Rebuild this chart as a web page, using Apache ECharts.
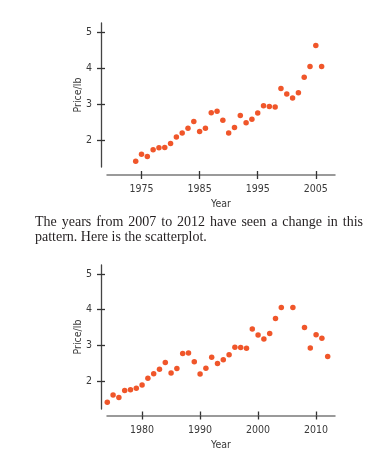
<!DOCTYPE html>
<html>
<head>
<meta charset="utf-8">
<script src="https://cdn.jsdelivr.net/npm/echarts@6/dist/echarts.min.js"></script>
<style>
html,body{margin:0;padding:0;background:#fff;}
#c{width:379px;height:453px;}
</style>
</head>
<body>
<div id="c"></div>
<script>
// ---- data ----
const years1 = [1974,1975,1976,1977,1978,1979,1980,1981,1982,1983,1984,1985,1986,1987,1988,1989,1990,1991,1992,1993,1994,1995,1996,1997,1998,1999,2000,2001,2002,2003,2004,2005,2006];
const price1 = [1.43,1.62,1.56,1.75,1.80,1.81,1.92,2.10,2.21,2.34,2.53,2.25,2.34,2.77,2.81,2.56,2.21,2.36,2.69,2.49,2.59,2.76,2.96,2.94,2.93,3.44,3.29,3.18,3.32,3.75,4.05,4.63,4.05];
const years2 = [1974,1975,1976,1977,1978,1979,1980,1981,1982,1983,1984,1985,1986,1987,1988,1989,1990,1991,1992,1993,1994,1995,1996,1997,1998,1999,2000,2001,2002,2003,2004,2006,2008,2009,2010,2011,2012];
const price2 = [1.41,1.61,1.54,1.74,1.76,1.80,1.89,2.08,2.21,2.33,2.52,2.23,2.35,2.77,2.79,2.54,2.20,2.36,2.67,2.49,2.60,2.74,2.95,2.94,2.92,3.46,3.29,3.18,3.33,3.75,4.06,4.06,3.50,2.93,3.30,3.20,2.69];
const xTicks1 = [1975,1985,1995,2005];
const xTicks2 = [1980,1990,2000,2010];
const yTicks = [2,3,4,5];
const xTitle = 'Year';
const yTitle = 'Price/lb';
const textLine1 = 'The years from 2007 to 2012 have seen a change in this';
const textLine2 = 'pattern. Here is the scatterplot.';

// ---- chart ----
const sansFont = '"Liberation Sans Narrow","DejaVu Sans Condensed","Liberation Sans",Arial,sans-serif';
const serifFont = '"Liberation Serif","DejaVu Serif",serif';
const dotColor = '#f0562a';
const plain = v => String(v);

function xAxes(g, min, max, ticks, offset) {
  return [
    {type:'value', gridIndex:g, position:'bottom', min:min, max:max, offset:offset,
     axisLine:{show:true, lineStyle:{color:'#7a7a7a', width:1.5}},
     axisTick:{show:true, length:4, customValues:ticks, lineStyle:{color:'#333', width:1.3}},
     axisLabel:{customValues:ticks, formatter:plain, margin:9, fontSize:10.5, color:'#3a3a3a', fontFamily:sansFont},
     splitLine:{show:false},
     name:xTitle, nameLocation:'middle', nameGap:24, nameMoveOverlap:false,
     nameTextStyle:{fontSize:10.5, color:'#3a3a3a', fontFamily:sansFont}},
    {type:'value', gridIndex:g, position:'bottom', min:min, max:max, offset:offset,
     axisLine:{show:true, lineStyle:{color:'rgba(0,0,0,0)', width:0}},
     axisTick:{show:true, inside:true, length:4, customValues:ticks, lineStyle:{color:'#333', width:1.3}},
     axisLabel:{show:false}, splitLine:{show:false}}
  ];
}
function yAxes(g, min, max, ticks, offset) {
  return [
    {type:'value', gridIndex:g, position:'left', min:min, max:max, offset:offset,
     axisLine:{show:true, lineStyle:{color:'#444', width:1.3}},
     axisTick:{show:true, length:4, customValues:ticks, lineStyle:{color:'#333', width:1.3}},
     axisLabel:{customValues:ticks, formatter:plain, margin:9, fontSize:10.5, color:'#3a3a3a', fontFamily:sansFont},
     splitLine:{show:false},
     name:yTitle, nameLocation:'middle', nameGap:17, nameRotate:90, nameMoveOverlap:false,
     nameTextStyle:{fontSize:10.5, color:'#3a3a3a', fontFamily:sansFont}},
    {type:'value', gridIndex:g, position:'left', min:min, max:max, offset:offset,
     axisLine:{show:true, lineStyle:{color:'rgba(0,0,0,0)', width:0}},
     axisTick:{show:true, inside:true, length:4, customValues:ticks, lineStyle:{color:'#333', width:1.3}},
     axisLabel:{show:false}, splitLine:{show:false}}
  ];
}

// justify first text line
const ctx = document.createElement('canvas').getContext('2d');
const fontStr = '14px ' + serifFont;
ctx.font = fontStr;
const words = textLine1.split(' ');
const widths = words.map(w => ctx.measureText(w).width);
const x0 = 35, x1 = 363;
const gap = (x1 - x0 - widths.reduce((a,b)=>a+b,0)) / (words.length - 1);
const textEls = [];
let cx = x0;
words.forEach((w,i) => {
  textEls.push({type:'text', left:cx, top:215, style:{text:w, font:fontStr, fill:'#231f20'}});
  cx += widths[i] + gap;
});
textEls.push({type:'text', left:x0, top:230, style:{text:textLine2, font:fontStr, fill:'#231f20'}});

const chart = echarts.init(document.getElementById('c'), null, {renderer:'canvas'});
chart.setOption({
  animation:false,
  backgroundColor:'#fff',
  grid:[
    {left:107, right:44, top:23, bottom:286, outerBoundsMode:'none'},
    {left:107, right:44, top:265, bottom:44, outerBoundsMode:'none'}
  ],
  xAxis: xAxes(0, 1969.06, 2008.3, xTicks1, 8).concat(xAxes(1, 1973.95, 2013.26, xTicks2, 6.5)),
  yAxis: yAxes(0, 1.27, 5.25, yTicks, 6).concat(yAxes(1, 1.22, 5.25, yTicks, 6)),
  graphic: textEls,
  series:[
    {type:'scatter', xAxisIndex:0, yAxisIndex:0, symbolSize:5.5, clip:false,
     itemStyle:{color:dotColor, opacity:1},
     data: years1.map((y,i)=>[y, price1[i]])},
    {type:'scatter', xAxisIndex:2, yAxisIndex:2, symbolSize:5.5, clip:false,
     itemStyle:{color:dotColor, opacity:1},
     data: years2.map((y,i)=>[y, price2[i]])}
  ]
});
</script>
</body>
</html>
